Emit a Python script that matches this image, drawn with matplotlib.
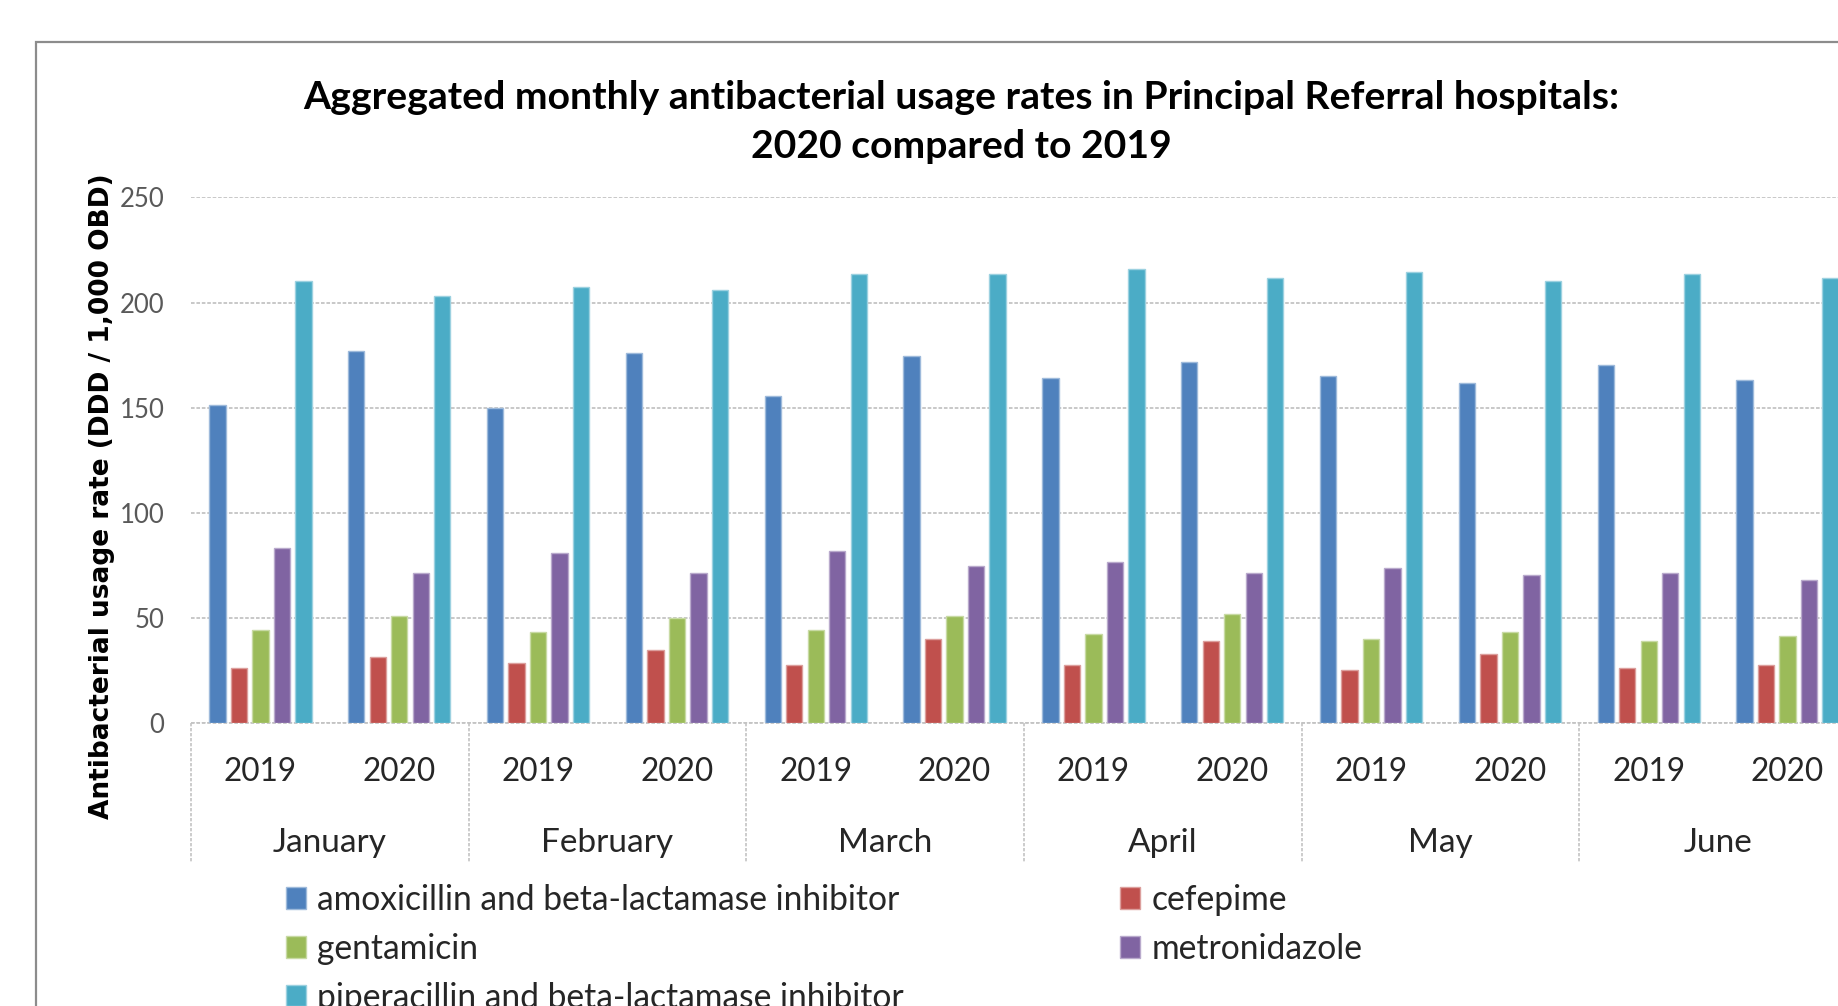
import numpy as np
import matplotlib
matplotlib.use("Agg")
import matplotlib.pyplot as plt
from matplotlib import font_manager
from matplotlib.transforms import blended_transform_factory
from matplotlib.patches import Patch
from matplotlib.lines import Line2D
from matplotlib.colors import to_rgb

# ---- data -------------------------------------------------------------
months = ["January", "February", "March", "April", "May", "June"]
years = ["2019", "2020"]

series_names = [
    "amoxicillin and beta-lactamase inhibitor",
    "cefepime",
    "gentamicin",
    "metronidazole",
    "piperacillin and beta-lactamase inhibitor",
]
series_colors = ["#4F81BD", "#C0504D", "#9BBB59", "#8064A2", "#4BACC6"]

# usage rate per month, one row per year (2019, 2020)
amoxicillin = [[151.2, 150.1, 155.5, 164.0, 165.1, 170.5],
               [177.0, 175.9, 174.8, 171.6, 161.9, 163.1]]
cefepime = [[26.5, 28.6, 27.6, 27.6, 25.4, 26.5],
            [31.7, 34.9, 40.3, 39.3, 32.8, 27.6]]
gentamicin = [[44.5, 43.4, 44.5, 42.5, 40.3, 39.3],
              [51.0, 50.2, 51.0, 52.1, 43.4, 41.4]]
metronidazole = [[83.2, 81.1, 82.1, 76.9, 73.7, 71.5],
                 [71.5, 71.5, 74.8, 71.5, 70.4, 68.3]]
piperacillin = [[210.4, 207.3, 213.6, 215.8, 214.7, 213.6],
                [203.0, 206.1, 213.6, 211.5, 210.4, 211.5]]

y_ticks = [0, 50, 100, 150, 200, 250]

title = ("Aggregated monthly antibacterial usage rates in Principal Referral hospitals:\n"
         "2020 compared to 2019")
y_label = "Antibacterial usage rate (DDD / 1,000 OBD)"

# ---- fonts ------------------------------------------------------------
BODY = ["Lato", "DejaVu Sans"]

# ---- figure -----------------------------------------------------------
W, H = 1838, 1006
fig = plt.figure(figsize=(W / 100, H / 100), dpi=100)
fig.patch.set_facecolor("white")

def fx(px):
    return px / W

def fy(py):
    return 1 - py / H

# outer chart frame
fig.add_artist(plt.Rectangle((fx(36), fy(1100)), fx(2000), (1100 - 42) / H,
                             transform=fig.transFigure, fill=False,
                             edgecolor="#8C8C8C", linewidth=1.6))

ax_left, ax_right = 191, 1857
ax_top, ax_bottom = 197.3, 723.4
ax = fig.add_axes([fx(ax_left), fy(ax_bottom), fx(ax_right - ax_left),
                   (ax_bottom - ax_top) / H])

all_series = [amoxicillin, cefepime, gentamicin, metronidazole, piperacillin]
n_slots = len(months) * len(years)
slot_centers = np.arange(n_slots) + 0.5
pitch = 0.155
bar_w = 0.118

def lighter(c, f=0.45):
    r, g, b = to_rgb(c)
    return (r + (1 - r) * f, g + (1 - g) * f, b + (1 - b) * f)

for j, (vals, col) in enumerate(zip(all_series, series_colors)):
    # interleave years within each month: Jan 2019, Jan 2020, Feb 2019, ...
    heights = np.array(vals).T.reshape(-1)
    ax.bar(slot_centers + (j - 2) * pitch, heights, width=bar_w,
           color=col, edgecolor=lighter(col), linewidth=1.0, zorder=3)

ax.set_xlim(0, n_slots)
ax.set_ylim(0, 250)
ax.set_yticks(y_ticks)
ax.set_yticklabels([str(t) for t in y_ticks], fontsize=18.5,
                   color="#595959", family=BODY)
ax.tick_params(axis="y", length=0, pad=19)
ax.set_xticks([])
for s in ax.spines.values():
    s.set_visible(False)
ax.yaxis.grid(True, color="#C4C4C4", linestyle=(0, (2.0, 1.0)), linewidth=1.3,
              zorder=0)
ax.set_axisbelow(True)
ax.axhline(0, color="#C4C4C4", linestyle=(0, (2.0, 1.0)), linewidth=1.3,
           zorder=2, clip_on=False)

# two-level category axis
trans = blended_transform_factory(ax.transData, fig.transFigure)
for i, c in enumerate(slot_centers):
    ax.text(c, fy(772), years[i % 2], transform=trans, ha="center",
            va="center", fontsize=22.7, color="#262626", family=BODY)
for m, name in enumerate(months):
    ax.text(2 * m + 1, fy(843), name, transform=trans, ha="center",
            va="center", fontsize=24, color="#262626", family=BODY)
for b in range(0, n_slots + 1, 2):
    ax.add_line(Line2D([b, b], [fy(ax_bottom), fy(861.7)], transform=trans,
                       color="#C4C4C4", linestyle=(0, (2.0, 1.0)),
                       linewidth=1.2, clip_on=False))

# title and axis title
fig.text(fx(961), fy(122), title, ha="center", va="center",
         fontsize=28.2, fontweight="bold", family=BODY, color="black",
         linespacing=1.5)
fig.text(fx(102), fy(496.5), y_label, rotation=90, ha="center", va="center",
         fontsize=19, fontweight="bold", family="DejaVu Sans", color="black")

# legend: left column holds entries 1, 3, 5; right column entries 2, 4
handles = [Patch(facecolor=c, edgecolor=lighter(c), linewidth=1.0)
           for c in series_colors]
leg_kw = dict(frameon=False, prop={"family": BODY, "size": 24.2},
              handlelength=0.6, handleheight=0.6, handletextpad=0.33,
              labelspacing=0.5, borderpad=0, borderaxespad=0,
              loc="upper left", labelcolor="#262626")
left_idx, right_idx = [0, 2, 4], [1, 3]
leg1 = fig.legend([handles[i] for i in left_idx],
                  [series_names[i] for i in left_idx],
                  bbox_to_anchor=(fx(286), fy(884)), **leg_kw)
leg2 = fig.legend([handles[i] for i in right_idx],
                  [series_names[i] for i in right_idx],
                  bbox_to_anchor=(fx(1120), fy(884)), **leg_kw)

fig.savefig("out.png", dpi=100, facecolor="white")
